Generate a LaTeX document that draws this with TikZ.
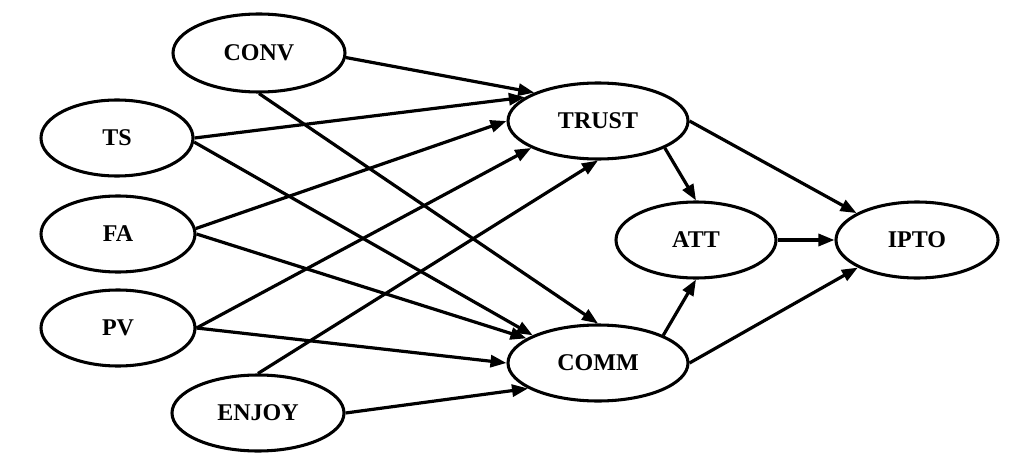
\documentclass[tikz,border=0pt]{standalone}
\usepackage{fontspec}
\setmainfont{Liberation Serif}
\usetikzlibrary{shapes.geometric,arrows.meta}
\begin{document}
\begin{tikzpicture}[x=0.75pt,y=-0.75pt,
  var/.style={draw,ellipse,line width=2.3pt,inner sep=0pt,minimum height=57pt,
    font=\fontsize{18}{18}\selectfont\bfseries},
  path/.style={line width=2.4pt,-{Triangle[length=12pt,width=9pt]}}]
\useasboundingbox (0,0) rectangle (1017,467);
\node[var,minimum width=129pt,minimum height=58.5pt] (conv) at (259,53) {CONV};
\node[var,minimum width=114pt] (ts) at (117,138) {TS};
\node[var,minimum width=115.5pt] (fa) at (118,234) {FA};
\node[var,minimum width=115.5pt] (pv) at (118,328) {PV};
\node[var,minimum width=129pt] (enjoy) at (258,413) {ENJOY};
\node[var,minimum width=135pt] (trust) at (598,121) {TRUST};
\node[var,minimum width=135pt] (comm) at (598,363) {COMM};
\node[var,minimum width=120pt] (att) at (696,240) {ATT};
\node[var,minimum width=121.5pt] (ipto) at (917,240) {IPTO};
% to TRUST
\draw[path] (conv.-3) -- (trust.156);
\draw[path] (ts.east) -- (trust.162);
\draw[path] (fa.4) -- (trust.west);
\draw[path] (pv.east) -- (trust.202);
\draw[path] (enjoy.north) -- (trust.south);
% to COMM
\draw[path] (conv.south) -- (comm.north);
\draw[path] (ts.-3) -- (comm.157);
\draw[path] (fa.east) -- (comm.161);
\draw[path] (pv.east) -- (comm.west);
\draw[path] (enjoy.east) -- (comm.200);
% right part
\draw[path] (trust.338) -- (att.north);
\draw[path] (trust.east) -- (ipto.156);
\draw[path] (att.east) -- (ipto.west);
\draw[path] (comm.23) -- (att.south);
\draw[path] (comm.east) -- (ipto.205);
\end{tikzpicture}
\end{document}
